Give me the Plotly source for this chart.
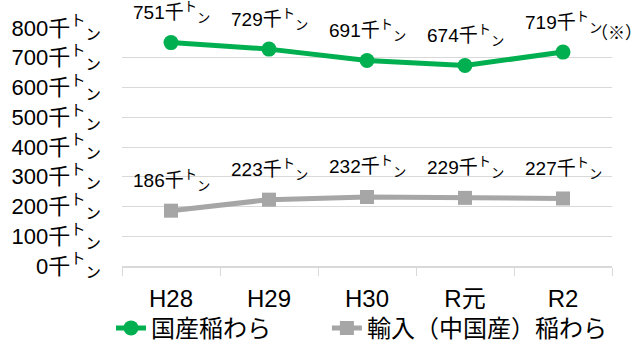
import plotly.graph_objects as go

# Fiscal years (Japanese era notation)
years = ["H28", "H29", "H30", "R元", "R2"]
# Rice straw supply, thousand tonnes
domestic = [751, 729, 691, 674, 719]
imported = [186, 223, 232, 229, 227]
y_ticks = [0, 100, 200, 300, 400, 500, 600, 700, 800]

UNIT = "千<sup>ト</sup><sub>ン</sub>"
FONT = "Liberation Sans, Arial, Noto Sans CJK JP, sans-serif"
GREEN = "#00B050"
GRAY = "#A6A6A6"
GRID = "#D9D9D9"

fig = go.Figure()
fig.add_trace(go.Scatter(
    x=years, y=domestic, name="国産稲わら", mode="lines+markers",
    line=dict(color=GREEN, width=5),
    marker=dict(symbol="circle", size=15, color=GREEN),
    legend="legend",
))
fig.add_trace(go.Scatter(
    x=years, y=imported, name="輸入（中国産）稲わら", mode="lines+markers",
    line=dict(color=GRAY, width=5),
    marker=dict(symbol="square", size=14, color=GRAY),
    legend="legend2",
))

# value labels above each point
for series in (domestic, imported):
    for xv, yv in zip(years, series):
        fig.add_annotation(
            x=xv, y=yv, text=f"{yv}{UNIT}", showarrow=False,
            yshift=30, font=dict(size=19, color="#000", family=FONT),
        )
# footnote mark on the latest domestic value
fig.add_annotation(
    x=years[-1], y=domestic[-1], text="（※）", showarrow=False,
    xshift=53, yshift=19, font=dict(size=17, color="#000", family=FONT),
)

legend_style = dict(
    orientation="h", xanchor="left", xref="container",
    y=0.04, yanchor="middle", yref="container",
    font=dict(size=24), bgcolor="rgba(0,0,0,0)",
)

fig.update_layout(
    width=636, height=342,
    margin=dict(l=122, r=24, t=28, b=76),
    paper_bgcolor="white", plot_bgcolor="white",
    font=dict(family=FONT, size=22, color="#000"),
    showlegend=True,
    legend=dict(x=0.1745, **legend_style),
    legend2=dict(x=0.514, **legend_style),
)
fig.update_xaxes(
    type="category", range=[-0.5, len(years) - 0.5], automargin=False,
    showgrid=False, showline=True, linecolor=GRID, linewidth=1.5,
    ticks="outside", tickson="boundaries", ticklen=8, tickcolor=GRID,
    tickfont=dict(size=24), ticklabelstandoff=10,
)
fig.update_yaxes(
    range=[0, 800], tickvals=y_ticks, automargin=False,
    ticktext=[f"{v}{UNIT}" for v in y_ticks],
    showgrid=True, gridcolor=GRID, gridwidth=1.2,
    zeroline=False, showline=False, ticks="",
    tickfont=dict(size=22), ticklabelstandoff=20,
)

fig.write_html("out.html")
